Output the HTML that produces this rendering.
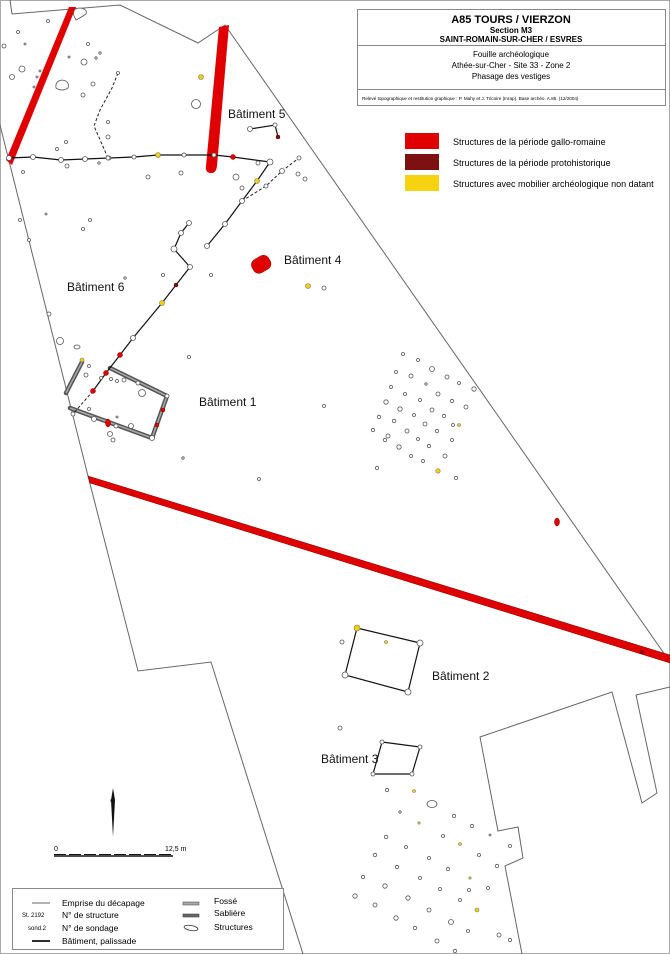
<!DOCTYPE html>
<html><head><meta charset="utf-8"><style>
html,body{margin:0;padding:0;background:#fff}
svg{display:block}
text{font-family:"Liberation Sans",sans-serif}
.c{fill:#fff;stroke:#555;stroke-width:0.8}
.y{fill:#f5d000;stroke:#777;stroke-width:0.6}
.r{fill:#e00000;stroke:#800;stroke-width:0.5}
.d{fill:#801010;stroke:#500;stroke-width:0.5}
.b{fill:none;stroke:#666;stroke-width:1}
.p{fill:none;stroke:#111;stroke-width:1.2}
.ds{fill:none;stroke:#222;stroke-width:1;stroke-dasharray:3,2}
.lab{font-size:12px;fill:#111}
</style></head><body>
<svg width="670" height="954" viewBox="0 0 670 954" xmlns="http://www.w3.org/2000/svg">
<rect x="0.5" y="0.5" width="669" height="953" fill="#fff" stroke="#aaa"/>
<!-- boundaries -->
<polyline class="b" points="10,0 12,14 120,5 198,43 225,25 670,662"/>
<polyline class="b" points="0,125 88,476 138,671 211,662 303,954"/>
<polyline class="b" points="522,954 505,866 523,858 518,827 498,831 480,737 612,692 642,803 657,793 636,695 670,687"/>
<!-- red fossés -->
<polygon fill="#e00000" points="69,7 76,7 12,165 6,160"/>
<path d="M219,27 L229,25 L217,166 Q216,174 210,173 Q205,172 206,166 Z" fill="#e00000"/>
<polygon fill="#e00000" stroke="#700" stroke-width="0.5" points="88,476 90,483 670,663 670,655"/>
<rect x="252" y="257" width="19" height="15" rx="6" transform="rotate(-30 261 265)" class="r"/>
<ellipse cx="557" cy="522" rx="2.5" ry="4" class="r"/>
<circle cx="642" cy="652" r="2" fill="#800"/>
<!-- sablière grey bars -->
<g stroke="#555" stroke-width="4.5" stroke-linecap="round">
<line x1="82" y1="362" x2="66" y2="393"/>
<line x1="70" y1="408" x2="152" y2="438"/>
<line x1="110" y1="368" x2="167" y2="396"/>
<line x1="167" y1="396" x2="152" y2="438"/>
</g>
<g stroke="#aaa" stroke-width="1.5">
<line x1="82" y1="362" x2="66" y2="393"/>
<line x1="70" y1="408" x2="152" y2="438"/>
<line x1="110" y1="368" x2="167" y2="396"/>
<line x1="167" y1="396" x2="152" y2="438"/>
</g>
<!-- palisades -->
<polyline class="p" points="9,158 33,157 61,160 85,159 109,158 134,157 158,155 184,155 214,155 233,157 270,162"/>
<polyline class="p" points="189,223 181,233 174,249 190,267 176,285 162,303 133,338 120,355 106,373 93,391"/>
<polyline class="ds" points="93,391 73,414"/>
<polyline class="p" points="207,246 225,224 242,201 257,181 270,162"/>
<polyline class="ds" points="242,201 266,186 282,171 299,158"/>
<polyline class="p" points="250,129 275,125 278,137"/>
<polyline class="ds" points="118,73 112,88 100,110 94,126 108,158"/>
<polygon class="p" points="357,628 420,643 408,692 345,675"/>
<polygon class="p" points="382,742 420,747 412,774 373,774"/>
<!-- palisade posts -->
<g class="c">
<circle cx="9" cy="158" r="2.5"/><circle cx="33" cy="157" r="2.5"/><circle cx="61" cy="160" r="2.5"/><circle cx="85" cy="159" r="2.5"/><circle cx="109" cy="158" r="2"/><circle cx="134" cy="157" r="2"/><circle cx="184" cy="155" r="2"/><circle cx="214" cy="155" r="2"/><circle cx="270" cy="162" r="3"/>
<circle cx="189" cy="223" r="2.5"/><circle cx="181" cy="233" r="2.5"/><circle cx="174" cy="249" r="3"/><circle cx="190" cy="267" r="2.5"/><circle cx="133" cy="338" r="2.5"/>
<circle cx="207" cy="246" r="2.5"/><circle cx="225" cy="224" r="2.5"/><circle cx="242" cy="201" r="2.5"/><circle cx="266" cy="186" r="2"/><circle cx="282" cy="171" r="2.5"/><circle cx="299" cy="158" r="2"/>
<circle cx="250" cy="129" r="2.5"/><circle cx="275" cy="125" r="2"/>
<circle cx="118" cy="73" r="1.5"/><circle cx="108" cy="158" r="2"/>
<circle cx="420" cy="643" r="3"/><circle cx="408" cy="692" r="3"/><circle cx="345" cy="675" r="3"/>
<circle cx="382" cy="742" r="2"/><circle cx="420" cy="747" r="2"/><circle cx="412" cy="774" r="2"/><circle cx="373" cy="774" r="2"/>
<circle cx="73" cy="414" r="2"/><circle cx="152" cy="438" r="2.5"/><circle cx="167" cy="396" r="2"/><circle cx="124" cy="380" r="2"/><circle cx="138" cy="383" r="2"/><circle cx="94" cy="419" r="2.5"/><circle cx="116" cy="426" r="2"/>
</g>
<g class="y"><circle cx="158" cy="155" r="2.5"/><circle cx="257" cy="181" r="2.5"/><circle cx="162" cy="303" r="2.5"/><circle cx="357" cy="628" r="3"/><circle cx="82" cy="360" r="2"/></g>
<g class="r"><circle cx="233" cy="157" r="2.5"/><circle cx="120" cy="355" r="2.5"/><circle cx="106" cy="373" r="2.5"/><circle cx="93" cy="391" r="2.5"/><circle cx="163" cy="410" r="2"/><circle cx="157" cy="425" r="2"/><ellipse cx="108" cy="423" rx="2.5" ry="4"/></g>
<g class="d"><circle cx="278" cy="137" r="2"/><circle cx="176" cy="285" r="2"/></g>
<!-- scatter structures -->
<g class="c">
<circle cx="48" cy="21" r="1.5"/><circle cx="18" cy="32" r="1.5"/><circle cx="4" cy="46" r="2"/><circle cx="25" cy="44" r="1"/><circle cx="88" cy="44" r="1.5"/><circle cx="100" cy="53" r="1.2"/><circle cx="96" cy="58" r="1.2"/><circle cx="69" cy="57" r="1"/><circle cx="84" cy="62" r="3"/><circle cx="22" cy="69" r="3"/><circle cx="12" cy="77" r="2.5"/><circle cx="40" cy="71" r="1"/><circle cx="37" cy="77" r="1"/><circle cx="93" cy="84" r="2"/><circle cx="83" cy="95" r="2"/><circle cx="34" cy="87" r="1"/>
<path d="M74,16 Q72,8 80,8 Q88,9 86,14 Q80,18 76,20 Z"/><path d="M56,88 Q55,81 62,80 Q70,81 68,88 Q62,92 56,88 Z"/>
<circle cx="196" cy="104" r="4.5"/><circle cx="108" cy="122" r="1.5"/><circle cx="108" cy="137" r="2"/><circle cx="66" cy="142" r="1.5"/><circle cx="57" cy="149" r="1.5"/><circle cx="99" cy="163" r="1.2"/><circle cx="67" cy="166" r="2"/><circle cx="23" cy="172" r="1.5"/><circle cx="148" cy="177" r="2"/><circle cx="181" cy="173" r="2"/><circle cx="236" cy="177" r="3"/><circle cx="242" cy="188" r="2"/><circle cx="258" cy="163" r="2"/><circle cx="298" cy="174" r="2"/><circle cx="305" cy="179" r="2"/>
<circle cx="46" cy="214" r="1"/><circle cx="20" cy="220" r="1.5"/><circle cx="90" cy="220" r="1.5"/><circle cx="83" cy="229" r="1.5"/><circle cx="29" cy="240" r="1.5"/><circle cx="125" cy="278" r="1.2"/><circle cx="163" cy="275" r="1.5"/><circle cx="211" cy="275" r="1.5"/><circle cx="324" cy="288" r="2"/><circle cx="189" cy="357" r="1.5"/><circle cx="324" cy="406" r="1.5"/><circle cx="183" cy="458" r="1.2"/><circle cx="259" cy="479" r="1.5"/>
<circle cx="49" cy="314" r="2"/><circle cx="60" cy="341" r="3.5"/><ellipse cx="77" cy="347" rx="3" ry="2"/><circle cx="89" cy="366" r="1.5"/><circle cx="86" cy="375" r="2"/><circle cx="142" cy="393" r="3.5"/><circle cx="89" cy="409" r="1.5"/><circle cx="117" cy="417" r="1"/><circle cx="131" cy="426" r="2.5"/><circle cx="110" cy="434" r="2.5"/><circle cx="113" cy="440" r="2"/><circle cx="117" cy="381" r="1.5"/><circle cx="111" cy="379" r="1.5"/><circle cx="101" cy="378" r="1.5"/>
<circle cx="403" cy="354" r="1.5"/><circle cx="418" cy="360" r="1.5"/><circle cx="432" cy="369" r="2.5"/><circle cx="396" cy="372" r="1.5"/><circle cx="411" cy="376" r="2"/><circle cx="447" cy="377" r="2"/><circle cx="426" cy="384" r="1.2"/><circle cx="459" cy="383" r="1.5"/><circle cx="391" cy="387" r="1.5"/><circle cx="474" cy="389" r="2.2"/><circle cx="405" cy="394" r="1.5"/><circle cx="438" cy="394" r="2"/><circle cx="420" cy="400" r="1.5"/><circle cx="452" cy="401" r="1.7"/><circle cx="386" cy="402" r="2.2"/><circle cx="400" cy="409" r="2.2"/><circle cx="432" cy="410" r="2"/><circle cx="466" cy="407" r="2"/><circle cx="414" cy="415" r="1.5"/><circle cx="444" cy="416" r="1.7"/><circle cx="379" cy="417" r="1.7"/><circle cx="394" cy="421" r="1.7"/><circle cx="425" cy="424" r="2"/><circle cx="453" cy="425" r="1.5"/><circle cx="373" cy="430" r="1.7"/><circle cx="407" cy="431" r="2"/><circle cx="437" cy="431" r="1.7"/><circle cx="388" cy="436" r="2"/><circle cx="385" cy="440" r="1.7"/><circle cx="418" cy="439" r="1.5"/><circle cx="452" cy="440" r="1.5"/><circle cx="399" cy="447" r="2.2"/><circle cx="429" cy="446" r="1.7"/><circle cx="411" cy="456" r="1.5"/><circle cx="445" cy="456" r="2"/><circle cx="423" cy="461" r="1.5"/><circle cx="377" cy="468" r="1.7"/><circle cx="456" cy="478" r="1.7"/>
<circle cx="342" cy="642" r="2"/><circle cx="340" cy="728" r="2"/>
<circle cx="387" cy="790" r="1.7"/><ellipse cx="432" cy="804" rx="5" ry="3.5"/><circle cx="400" cy="812" r="1.2"/><circle cx="454" cy="816" r="1.7"/><circle cx="472" cy="826" r="1.7"/><circle cx="386" cy="837" r="1.7"/><circle cx="443" cy="836" r="1.5"/><circle cx="490" cy="835" r="1"/><circle cx="406" cy="847" r="1.5"/><circle cx="510" cy="846" r="1.5"/><circle cx="375" cy="855" r="1.7"/><circle cx="479" cy="855" r="1.5"/><circle cx="429" cy="858" r="1.5"/><circle cx="397" cy="867" r="1.7"/><circle cx="448" cy="869" r="1.7"/><circle cx="497" cy="866" r="1.7"/><circle cx="363" cy="877" r="1.7"/><circle cx="420" cy="878" r="1.5"/><circle cx="385" cy="886" r="2.2"/><circle cx="440" cy="889" r="1.5"/><circle cx="469" cy="890" r="1.5"/><circle cx="488" cy="888" r="1.5"/><circle cx="355" cy="896" r="2.2"/><circle cx="408" cy="898" r="2.2"/><circle cx="460" cy="900" r="1.5"/><circle cx="375" cy="905" r="2"/><circle cx="429" cy="910" r="2"/><circle cx="396" cy="918" r="2.2"/><circle cx="451" cy="922" r="2.5"/><circle cx="415" cy="928" r="1.7"/><circle cx="468" cy="931" r="1.5"/><circle cx="499" cy="935" r="2"/><circle cx="437" cy="941" r="2"/><circle cx="455" cy="951" r="1.7"/><circle cx="510" cy="940" r="1.7"/>
</g>
<g class="y"><circle cx="201" cy="77" r="2.5"/><circle cx="308" cy="286" r="2.5"/><circle cx="459" cy="425" r="1.5"/><circle cx="438" cy="471" r="2.2"/><circle cx="386" cy="642" r="1.5"/><circle cx="414" cy="791" r="1.5"/><circle cx="419" cy="823" r="1.2"/><circle cx="460" cy="844" r="1.5"/><circle cx="470" cy="878" r="1.2"/><circle cx="477" cy="910" r="2"/></g>
<!-- labels -->
<text class="lab" x="228" y="118">Bâtiment 5</text>
<text class="lab" x="284" y="264">Bâtiment 4</text>
<text class="lab" x="67" y="291">Bâtiment 6</text>
<text class="lab" x="199" y="406">Bâtiment 1</text>
<text class="lab" x="432" y="680">Bâtiment 2</text>
<text class="lab" x="321" y="763">Bâtiment 3</text>
<!-- title block -->
<rect x="357.5" y="9.5" width="308" height="96" fill="#fff" stroke="#888"/>
<line x1="357.5" y1="45.5" x2="665.5" y2="45.5" stroke="#888"/>
<line x1="357.5" y1="89.5" x2="665.5" y2="89.5" stroke="#888"/>
<text x="511" y="23" text-anchor="middle" font-size="11" font-weight="bold">A85 TOURS / VIERZON</text>
<text x="511" y="33" text-anchor="middle" font-size="8" font-weight="bold">Section M3</text>
<text x="511" y="42" text-anchor="middle" font-size="8" font-weight="bold">SAINT-ROMAIN-SUR-CHER / ESVRES</text>
<text x="511" y="57" text-anchor="middle" font-size="8">Fouille archéologique</text>
<text x="511" y="68" text-anchor="middle" font-size="8">Athée-sur-Cher - Site 33 - Zone 2</text>
<text x="511" y="79" text-anchor="middle" font-size="8">Phasage des vestiges</text>
<text x="362" y="100" font-size="4.6">Relevé topographique et restitution graphique :  P. Mahy et J. Tricoire (Inrap). Base archéo. A.85. (12/2004)</text>
<!-- colour legend -->
<rect x="405" y="133" width="34" height="16" fill="#e00000"/>
<rect x="405" y="154" width="34" height="16" fill="#7d1010"/>
<rect x="405" y="175" width="34" height="16" fill="#f5d311"/>
<text x="453" y="145" font-size="9">Structures de la période gallo-romaine</text>
<text x="453" y="166" font-size="9">Structures de la période protohistorique</text>
<text x="453" y="187" font-size="9">Structures avec mobilier archéologique non datant</text>
<!-- north arrow & scale -->
<polygon points="113,788 111,800 113,837 115,800" fill="#111"/>
<text x="110" y="802" font-size="4">N</text>
<text x="54" y="851" font-size="7">0</text>
<text x="165" y="851" font-size="7">12,5 m</text>
<line x1="54" y1="856" x2="173" y2="856" stroke="#111" stroke-width="1.5"/>
<line x1="54" y1="854.5" x2="173" y2="854.5" stroke="#111" stroke-width="1" stroke-dasharray="12,3"/>
<!-- legend -->
<rect x="12.5" y="888.5" width="271" height="61" fill="#fff" stroke="#888"/>
<line x1="32" y1="903" x2="50" y2="903" stroke="#333" stroke-width="0.8"/>
<text x="22" y="917" font-size="6" font-family="Liberation Serif">St. 2192</text>
<text x="28" y="930" font-size="6" font-family="Liberation Serif">sond.2</text>
<line x1="32" y1="941" x2="50" y2="941" stroke="#111" stroke-width="1.8"/>
<text x="62" y="906" font-size="8.5">Emprise du décapage</text>
<text x="62" y="918" font-size="8.5">N° de structure</text>
<text x="62" y="931" font-size="8.5">N° de sondage</text>
<text x="62" y="944" font-size="8.5">Bâtiment, palissade</text>
<rect x="183" y="902" width="16" height="3" fill="#aaa" stroke="#555" stroke-width="0.6"/>
<rect x="183" y="914" width="16" height="3" fill="#666" stroke="#444" stroke-width="0.6"/>
<ellipse cx="191" cy="928" rx="7" ry="2.5" transform="rotate(10 191 928)" fill="none" stroke="#333" stroke-width="0.8"/>
<text x="214" y="904" font-size="8.5">Fossé</text>
<text x="214" y="916" font-size="8.5">Sablière</text>
<text x="214" y="930" font-size="8.5">Structures</text>
</svg>
</body></html>
